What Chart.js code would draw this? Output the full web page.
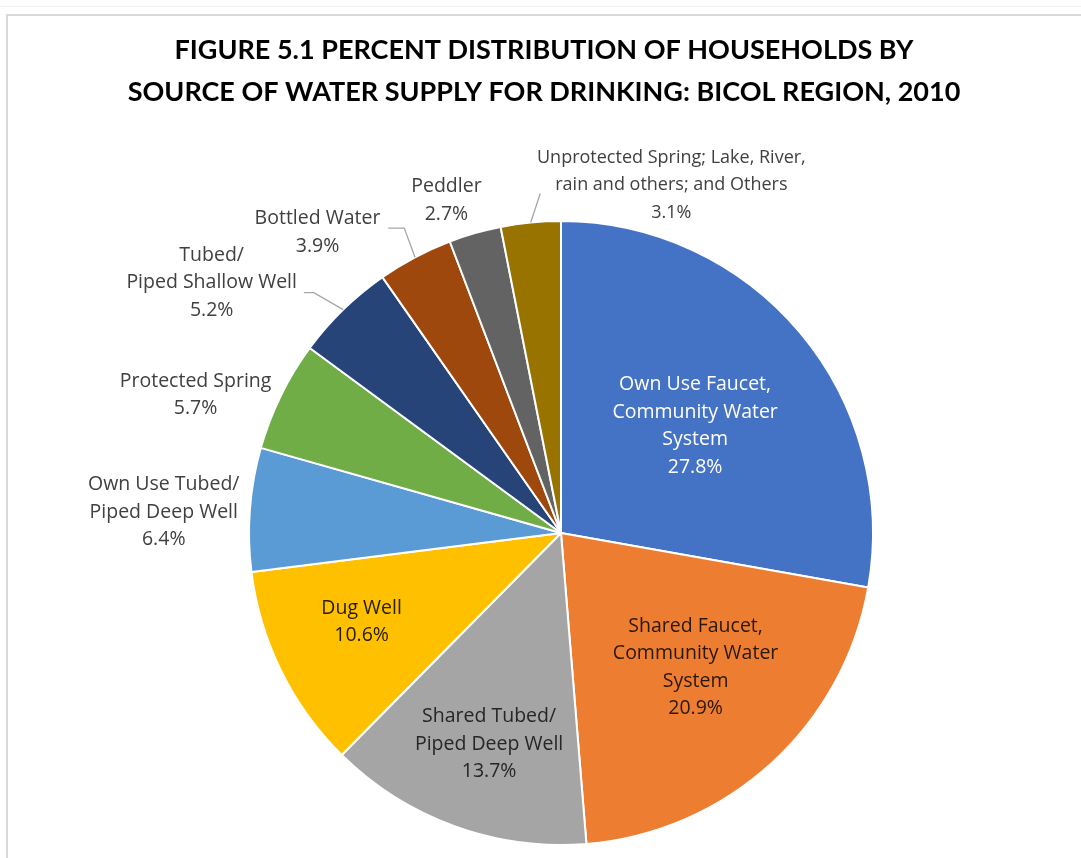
<!DOCTYPE html>
<html>
<head>
<meta charset="utf-8">
<script src="https://cdn.jsdelivr.net/npm/chart.js@4.4.1/dist/chart.umd.min.js"></script>
<style>
  body { margin: 0; background: #fff; }
  canvas { display: block; }
</style>
</head>
<body>
<canvas id="grafico" width="1081" height="858"></canvas>
<script>
// Fuentes de agua para beber, en orden horario desde arriba
const fuentes = [
  "Own Use Faucet, Community Water System",
  "Shared Faucet, Community Water System",
  "Shared Tubed/Piped Deep Well",
  "Dug Well",
  "Own Use Tubed/Piped Deep Well",
  "Protected Spring",
  "Tubed/Piped Shallow Well",
  "Bottled Water",
  "Peddler",
  "Unprotected Spring; Lake, River, rain and others; and Others",
];
// Porcentaje de hogares
const porcentajes = [27.8, 20.9, 13.7, 10.6, 6.4, 5.7, 5.2, 3.9, 2.7, 3.1];
// Texto de las etiquetas, cortado por lineas
const lineasEtiqueta = [
  ["Own Use Faucet,", "Community Water", "System"],
  ["Shared Faucet,", "Community Water", "System"],
  ["Shared Tubed/", "Piped Deep Well"],
  ["Dug Well"],
  ["Own Use Tubed/", "Piped Deep Well"],
  ["Protected Spring"],
  ["Tubed/", "Piped Shallow Well"],
  ["Bottled Water"],
  ["Peddler"],
  ["Unprotected Spring; Lake, River,", "rain and others; and Others"],
];
const titulo = [
  "FIGURE 5.1 PERCENT DISTRIBUTION OF HOUSEHOLDS BY",
  "SOURCE OF WATER SUPPLY FOR DRINKING: BICOL REGION, 2010",
];

const colores = ["#4472C4", "#ED7D31", "#A5A5A5", "#FFC000", "#5B9BD5",
  "#70AD47", "#264478", "#9E480E", "#636363", "#997300"];

// Donde va cada etiqueta: angulo (grados desde arriba, horario) y radio relativo
const posEtiqueta = [
  { a: 51.4, f: 0.55, color: "#ffffff" },
  { a: 135, f: 0.61, color: "#2a1808" },
  { a: 198.8, f: 0.715, color: "#262626" },
  { a: 245.9, f: 0.70, color: "#2a2000" },
  { a: 273, f: 1.275, color: "#404040" },
  { a: 290.7, f: 1.252, color: "#404040" },
  { a: 305.6, f: 1.377, color: "#404040" },
  { a: 321, f: 1.24, color: "#404040" },
  { a: 341, f: 1.128, color: "#404040" },
  { a: 17.6, f: 1.17, color: "#404040", size: 18 },
];
// Lineas guia (solo algunas etiquetas)
const guias = {
  6: { a: 314.2, f: 1.105, stub: -10 },
  7: { a: 332.8, f: 1.099, stub: -16 },
  9: { a: 356.5, f: 1.09, stub: 0 },
};

const polar = (cx, cy, grados, r) => {
  const rad = (grados - 90) * Math.PI / 180;
  return { x: cx + Math.cos(rad) * r, y: cy + Math.sin(rad) * r };
};

// Marco y titulo
const marcoTitulo = {
  id: "marcoTitulo",
  beforeDraw(chart) {
    const ctx = chart.ctx;
    ctx.save();
    ctx.fillStyle = "#fff";
    ctx.fillRect(0, 0, chart.width, chart.height);
    ctx.strokeStyle = "#f2f2f2";
    ctx.lineWidth = 1;
    ctx.beginPath();
    ctx.moveTo(0, 6.5);
    ctx.lineTo(chart.width, 6.5);
    ctx.stroke();
    ctx.strokeStyle = "#d9d9d9";
    ctx.lineWidth = 2;
    ctx.beginPath();
    ctx.moveTo(7, chart.height);
    ctx.lineTo(7, 15);
    ctx.lineTo(chart.width, 15);
    ctx.stroke();

    ctx.fillStyle = "#000";
    ctx.font = "bold 27px Lato";
    ctx.textAlign = "center";
    ctx.textBaseline = "middle";
    titulo.forEach((t, i) => ctx.fillText(t, 544, 50 + i * 42));
    ctx.restore();
  },
};

// Etiquetas de datos con nombre y porcentaje
const etiquetas = {
  id: "etiquetas",
  afterDatasetsDraw(chart) {
    const ctx = chart.ctx;
    const arcos = chart.getDatasetMeta(0).data;
    ctx.save();
    ctx.textAlign = "center";
    ctx.textBaseline = "middle";
    const altoLinea = 27.5;
    arcos.forEach((arco, i) => {
      const R = arco.outerRadius;
      const g = guias[i];
      if (g) {
        const medio = (arco.startAngle + arco.endAngle) / 2;
        const p0 = { x: arco.x + Math.cos(medio) * R, y: arco.y + Math.sin(medio) * R };
        const p1 = polar(arco.x, arco.y, g.a, R * g.f);
        ctx.strokeStyle = "#a6a6a6";
        ctx.lineWidth = 1.3;
        ctx.beginPath();
        ctx.moveTo(p0.x, p0.y);
        ctx.lineTo(p1.x, p1.y);
        if (g.stub) ctx.lineTo(p1.x + g.stub, p1.y);
        ctx.stroke();
      }
      const pos = posEtiqueta[i];
      const c = polar(arco.x, arco.y, pos.a, R * pos.f);
      const lineas = lineasEtiqueta[i].concat(porcentajes[i].toFixed(1) + "%");
      const y0 = c.y - (lineas.length - 1) * altoLinea / 2;
      ctx.font = (pos.size || 19.5) + "px 'Open Sans'";
      ctx.fillStyle = pos.color;
      lineas.forEach((l, k) => ctx.fillText(l, c.x, y0 + k * altoLinea));
    });
    ctx.restore();
  },
};

new Chart(document.getElementById("grafico"), {
  type: "pie",
  data: {
    labels: fuentes,
    datasets: [{
      data: porcentajes,
      backgroundColor: colores,
      borderColor: "#ffffff",
      borderWidth: 2,
    }],
  },
  options: {
    responsive: false,
    devicePixelRatio: 1,
    animation: false,
    layout: { padding: { top: 220, bottom: 12, left: 100, right: 59 } },
    plugins: {
      legend: { display: false },
      tooltip: { enabled: false },
      title: { display: false },
    },
  },
  plugins: [marcoTitulo, etiquetas],
});
</script>
</body>
</html>
